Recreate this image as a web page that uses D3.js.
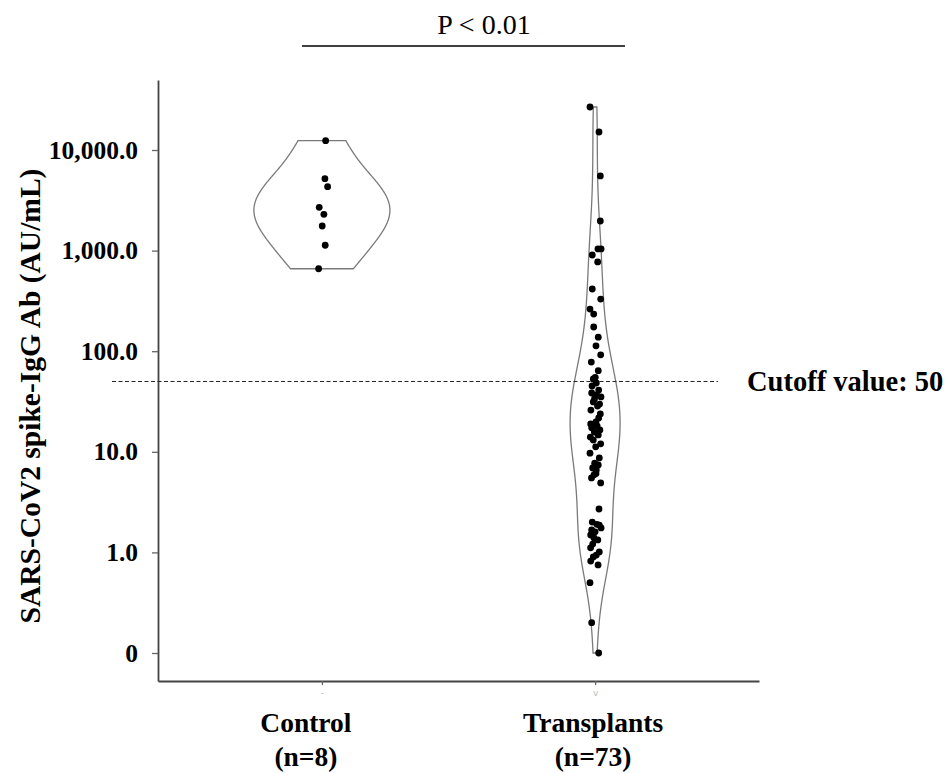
<!DOCTYPE html>
<html><head><meta charset="utf-8">
<script src="https://cdn.jsdelivr.net/npm/d3@7"></script>
<style>body{margin:0;background:#fff}svg{display:block}</style>
</head><body><svg id="c" width="947" height="773"></svg>
<script>
// ---------------- data ----------------
const groups = ["Control", "Transplants"];
const groupCounts = ["(n=8)", "(n=73)"];
const tickMarks = ["-", "v"];
const controlValues = [12370, 5190, 4315, 2690, 2295, 1757, 1130, 660];
const controlJitter = [0.62, 0.5, 0.95, -0.45, 0.33, 0.05, 0.55, -0.55];
const transplantValues = [
  26750, 15100, 5520, 1970, 1040, 1040, 904, 771, 415, 330,
  262, 234, 174, 138, 113, 92, 78, 64, 55, 53,
  48.3, 45.1, 41.1, 38.4, 36.7, 35.1, 33.5, 31.3, 29.8, 28.5,
  26.0, 23.8, 21.7, 19.8, 18.9, 18.0, 17.3, 16.5, 15.7, 14.7,
  14.0, 13.1, 12.0, 11.2, 9.7, 8.7, 7.7, 7.4, 6.9, 6.6,
  6.1, 5.9, 5.5, 4.9, 2.7, 2.0, 1.9, 1.87, 1.75, 1.67,
  1.60, 1.49, 1.39, 1.33, 1.21, 1.11, 1.01, 0.94, 0.90, 0.82,
  0.75, 0.50, 0.20, 0.10
];
const transplantJitter = [
  -0.85, 0.65, 0.87, 0.87, 0.48, 1.0, -0.47, 0.43, -0.47, 0.93,
  -0.85, -0.23, -0.23, 0.53, 0.15, 0.93, -0.63, 0.53, 0.03, -0.3,
  0.2, -0.5, 0.6, -0.57, 0.27, 0.98, -0.1, -0.3, 0.75, 0.4,
  -0.7, 0.87, 0.6, 0.15, -0.73, 0.35, -0.57, 0.8, -0.13, 0.53,
  -0.8, -0.3, 0.93, 0.1, -0.85, 0.7, -0.07, 0.53, -0.4, 0.2,
  0.15, -0.18, -0.6, 0.93, 0.65, -0.47, 0.3, 0.7, 1.0, -0.57,
  0.0, -0.73, -0.18, 0.45, -0.4, -0.75, 0.7, 0.2, -0.3, -0.73,
  0.5, -0.85, -0.57, 0.6
];
const yTickValues = [0.1, 1, 10, 100, 1000, 10000];
const yTickLabels = ["0", "1.0", "10.0", "100.0", "1,000.0", "10,000.0"];
const cutoffValue = 50;
const cutoffLabel = "Cutoff value: 50";
const yTitle = "SARS-CoV2 spike-IgG Ab (AU/mL)";
const pLabel = "P < 0.01";
const bwAdjust = [1.2, 1.0];

// ---------------- layout ----------------
const svg = d3.select("#c");
const serif = "'Liberation Serif','Times New Roman',Times,serif";
const x = d3.scalePoint().domain(groups).range([158, 759]).padding(0.6);
const y = d3.scaleLog().domain([0.05268, 49640]).range([681, 80]);
const jit = d3.scaleLinear().domain([-1, 1]).range([-6, 6]);

// ---------------- densities ----------------
function nrd0(arr) {
  const s = arr.slice().sort(d3.ascending);
  const sd = d3.deviation(s);
  const iqr = (d3.quantile(s, 0.75) - d3.quantile(s, 0.25)) / 1.34;
  const lo = Math.min(sd, iqr) || sd;
  return 0.9 * lo * Math.pow(s.length, -0.2);
}
function kde(vals, adj) {
  const l = vals.map(v => Math.log10(v));
  const bw = nrd0(l) * adj;
  const [mn, mx] = d3.extent(l);
  const n = 200;
  return d3.range(n + 1).map(i => {
    const t = mn + (mx - mn) * i / n;
    const d = d3.mean(l, v => Math.exp(-0.5 * ((t - v) / bw) ** 2)) / (bw * Math.sqrt(2 * Math.PI));
    return [t, d];
  });
}
const dens = [kde(controlValues, bwAdjust[0]), kde(transplantValues, bwAdjust[1])];
const w = d3.scaleLinear().domain([0, d3.max(dens[0], d => d[1])]).range([0, 68]);
const wT = d3.scaleLinear().domain([0, d3.max(dens[1], d => d[1])]).range([0, 25]);
const widthScales = [w, wT];

const violin = (cx, ws) => d3.area()
  .y(d => y(Math.pow(10, d[0])))
  .x0(d => cx - ws(d[1]))
  .x1(d => cx + ws(d[1]))
  .curve(d3.curveBasis);

groups.forEach((g, i) => {
  svg.append("path").datum(dens[i])
    .attr("d", violin(x(g), widthScales[i]))
    .attr("fill", "none").attr("stroke", "#7a7a7a").attr("stroke-width", 1.3);
});

// ---------------- axes ----------------
const yAxis = svg.append("g").attr("transform", "translate(158,0)")
  .call(d3.axisLeft(y).tickValues(yTickValues).tickFormat((d, i) => yTickLabels[i]).tickSize(6).tickSizeOuter(0).tickPadding(14));
yAxis.select(".domain").attr("stroke", "#444").attr("stroke-width", 1.8);
yAxis.selectAll(".tick line").attr("stroke", "#666").attr("stroke-width", 1.3);
yAxis.selectAll(".tick text").attr("font-family", serif).attr("font-weight", "bold").attr("font-size", 25.5).attr("fill", "#000");

const xAxis = svg.append("g").attr("transform", "translate(0,681)")
  .call(d3.axisBottom(x).tickSize(4).tickSizeOuter(0).tickPadding(5).tickFormat((d, i) => tickMarks[i]));
xAxis.select(".domain").attr("stroke", "#444").attr("stroke-width", 1.8);
xAxis.selectAll(".tick line").attr("stroke", "#666").attr("stroke-width", 1.3);
xAxis.selectAll(".tick text").attr("font-family", "DejaVu Sans").attr("font-size", 9).attr("fill", "#bbb");

// ---------------- cutoff ----------------
svg.append("line")
  .attr("x1", 112).attr("x2", 718).attr("y1", y(cutoffValue)).attr("y2", y(cutoffValue))
  .attr("stroke", "#222").attr("stroke-width", 1).attr("stroke-dasharray", "4,2.5");
svg.append("text").attr("x", 747).attr("y", y(cutoffValue) + 10)
  .attr("font-family", serif).attr("font-weight", "bold").attr("font-size", 28.5).text(cutoffLabel);

// ---------------- points ----------------
svg.append("g").selectAll("circle").data(controlValues).join("circle")
  .attr("cx", (d, i) => x("Control") + jit(controlJitter[i])).attr("cy", d => y(d)).attr("r", 3.4).attr("fill", "#000");
svg.append("g").selectAll("circle").data(transplantValues).join("circle")
  .attr("cx", (d, i) => x("Transplants") + jit(transplantJitter[i])).attr("cy", d => y(d)).attr("r", 3.4).attr("fill", "#000");

// ---------------- labels ----------------
const labelShift = [-16, -2];
groups.forEach((g, i) => {
  svg.append("text").attr("x", x(g) + labelShift[i]).attr("y", 732).attr("text-anchor", "middle")
    .attr("font-family", serif).attr("font-weight", "bold").attr("font-size", 27.5).text(g);
  svg.append("text").attr("x", x(g) + labelShift[i]).attr("y", 766).attr("text-anchor", "middle")
    .attr("font-family", serif).attr("font-weight", "bold").attr("font-size", 27.5).text(groupCounts[i]);
});
svg.append("text").attr("transform", "translate(40,396) rotate(-90)").attr("text-anchor", "middle")
  .attr("font-family", serif).attr("font-weight", "bold").attr("font-size", 29.5).text(yTitle);

svg.append("text").attr("x", 484).attr("y", 34).attr("text-anchor", "middle")
  .attr("font-family", serif).attr("font-size", 28).text(pLabel);
svg.append("line").attr("x1", 302).attr("x2", 625).attr("y1", 46).attr("y2", 46)
  .attr("stroke", "#000").attr("stroke-width", 1.3);
</script>
</body></html>
